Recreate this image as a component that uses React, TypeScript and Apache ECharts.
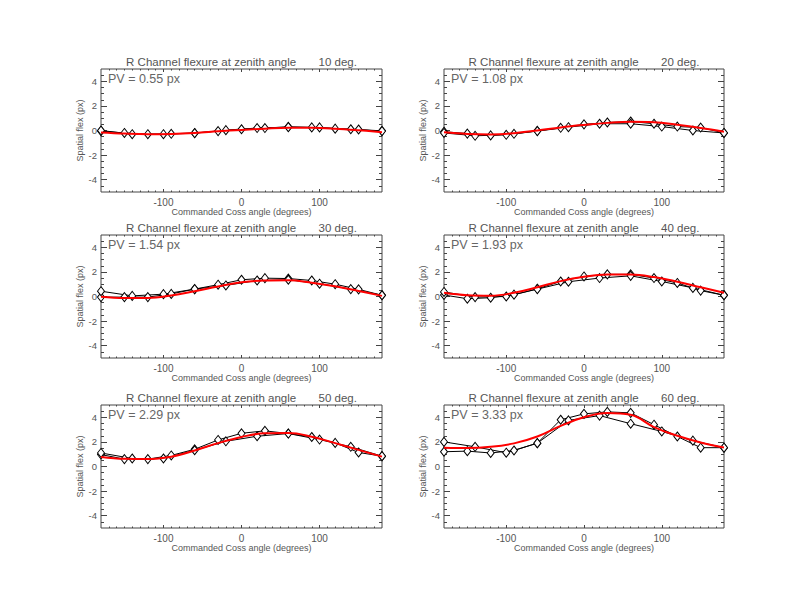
import React, { useEffect, useRef } from "react";
import * as echarts from "echarts";

// ---- data ----
const zenithAngles = [10, 20, 30, 40, 50, 60];
const pvValues = ["0.55", "1.08", "1.54", "1.93", "2.29", "3.33"];

const xStep30 = [-180, -150, -120, -90, -60, -30, 0, 30, 60, 90, 120, 150, 180];
const xStep40 = [-180, -140, -100, -60, -20, 20, 60, 100, 140, 180];
const xFit = [-180, -150, -120, -90, -60, -30, 0, 30, 60, 90, 120, 150, 180];

const s30_10 = [-0.05, -0.2, -0.3, -0.27, -0.2, -0.05, 0.1, 0.2, 0.3, 0.25, 0.15, 0.08, -0.03];
const s40_10 = [0.0, -0.3, -0.3, -0.22, 0.03, 0.2, 0.27, 0.25, 0.1, -0.05];
const fit_10 = [-0.16, -0.25, -0.3, -0.28, -0.2, -0.07, 0.05, 0.15, 0.22, 0.22, 0.15, 0.02, -0.14];

const s30_20 = [-0.1, -0.25, -0.4, -0.27, -0.03, 0.22, 0.5, 0.65, 0.73, 0.55, 0.32, 0.24, -0.2];
const s40_20 = [-0.2, -0.43, -0.35, -0.05, 0.27, 0.55, 0.55, 0.32, 0.0, -0.2];
const fit_20 = [-0.15, -0.28, -0.32, -0.22, 0.0, 0.25, 0.45, 0.62, 0.72, 0.68, 0.46, 0.2, -0.1];

const s30_30 = [-0.05, -0.05, -0.05, 0.21, 0.6, 0.96, 1.36, 1.49, 1.46, 1.3, 1.0, 0.58, 0.1];
const s40_30 = [0.43, 0.05, 0.19, 0.6, 0.9, 1.3, 1.36, 1.04, 0.6, 0.1];
const fit_30 = [-0.02, -0.12, -0.12, 0.08, 0.43, 0.82, 1.15, 1.3, 1.32, 1.12, 0.83, 0.45, 0.05];

const s30_40 = [0.12, -0.18, -0.1, 0.15, 0.63, 1.22, 1.63, 1.8, 1.8, 1.5, 1.1, 0.48, 0.1];
const s40_40 = [0.37, -0.05, 0.0, 0.6, 1.2, 1.5, 1.68, 1.22, 0.7, 0.1];
const fit_40 = [0.3, 0.1, 0.06, 0.3, 0.75, 1.25, 1.6, 1.78, 1.78, 1.58, 1.2, 0.75, 0.3];

const s30_50 = [0.97, 0.6, 0.6, 0.9, 1.4, 2.16, 2.7, 2.9, 2.68, 2.4, 1.92, 1.14, 0.84];
const s40_50 = [1.1, 0.65, 0.65, 1.32, 2.05, 2.46, 2.68, 2.19, 1.6, 0.84];
const fit_50 = [0.78, 0.62, 0.6, 0.8, 1.3, 1.9, 2.4, 2.7, 2.72, 2.42, 1.9, 1.35, 0.8];

const s30_60 = [1.2, 1.25, 1.1, 1.3, 1.9, 3.8, 4.28, 4.44, 4.36, 3.4, 2.44, 1.53, 1.53];
const s40_60 = [2.0, 1.6, 1.12, 1.9, 3.75, 4.14, 3.48, 2.85, 2.1, 1.53];
const fit_60 = [1.53, 1.5, 1.6, 1.88, 2.44, 3.3, 4.0, 4.35, 4.2, 3.2, 2.5, 1.95, 1.55];

const step30Series = [s30_10, s30_20, s30_30, s30_40, s30_50, s30_60];
const step40Series = [s40_10, s40_20, s40_30, s40_40, s40_50, s40_60];
const fitSeries = [fit_10, fit_20, fit_30, fit_40, fit_50, fit_60];

const xMajorTicks = [-100, 0, 100];
const xMinorTicks = [-170, -160, -150, -140, -130, -120, -110, -90, -80, -70, -60, -50, -40, -30, -20, -10,
  10, 20, 30, 40, 50, 60, 70, 80, 90, 110, 120, 130, 140, 150, 160, 170];
const yMajorTicks = [-4, -2, 0, 2, 4];
const yMinorTicks = [-4.5, -3.5, -3, -2.5, -1.5, -1, -0.5, 0.5, 1, 1.5, 2.5, 3, 3.5, 4.5];

const X_MIN = -180, X_MAX = 180, Y_MIN = -5, Y_MAX = 5;

// ---- layout ----
const COL_LEFT = [101, 444];
const COL_WIDTH = [281, 280];
const ROW_TOP = [69, 235, 405];
const PLOT_H = 123;
const FONT = "'Liberation Sans', Arial, sans-serif";
const TEXT_COLOR = "#555";
const TICK_COLOR = "#444";

export default function App() {
  const ref = useRef<HTMLDivElement>(null);
  useEffect(() => {
    if (!ref.current) return;
    const chart = echarts.init(ref.current, undefined, { renderer: "svg" });
    const grids: any[] = [];
    const xAxes: any[] = [];
    const yAxes: any[] = [];
    const series: any[] = [];
    const graphics: any[] = [];

    zenithAngles.forEach((za, i) => {
      const col = i % 2;
      const row = Math.floor(i / 2);
      const left = COL_LEFT[col];
      const width = COL_WIDTH[col];
      const top = ROW_TOP[row];
      grids.push({
        left, top, width, height: PLOT_H,
        show: true, borderColor: TICK_COLOR, borderWidth: 1,
        backgroundColor: "transparent", containLabel: false,
      });
      const baseX = {
        type: "value", gridIndex: i, min: X_MIN, max: X_MAX,
        axisLine: { show: false, onZero: false }, splitLine: { show: false },
      };
      const baseY = {
        type: "value", gridIndex: i, min: Y_MIN, max: Y_MAX,
        axisLine: { show: false, onZero: false }, splitLine: { show: false },
      };
      const tick = (len: number, vals: number[]) => ({
        inside: true, length: len, customValues: vals, lineStyle: { color: TICK_COLOR, width: 1 },
      });
      const xi = xAxes.length;
      xAxes.push({
        ...baseX, position: "bottom",
        axisTick: tick(3, xMajorTicks),
        axisLabel: { customValues: xMajorTicks, color: TEXT_COLOR, fontFamily: FONT, fontSize: 10, margin: 5 },
        name: "Commanded Coss angle (degrees)", nameLocation: "middle", nameGap: 14,
        nameTextStyle: { color: TEXT_COLOR, fontFamily: FONT, fontSize: 9 },
      });
      xAxes.push({ ...baseX, position: "bottom", axisTick: tick(1.5, xMinorTicks), axisLabel: { show: false } });
      xAxes.push({ ...baseX, position: "top", axisTick: tick(3, xMajorTicks), axisLabel: { show: false } });
      xAxes.push({ ...baseX, position: "top", axisTick: tick(1.5, xMinorTicks), axisLabel: { show: false } });
      const yi = yAxes.length;
      yAxes.push({
        ...baseY, position: "left",
        axisTick: tick(6, yMajorTicks),
        axisLabel: { customValues: yMajorTicks, color: TEXT_COLOR, fontFamily: FONT, fontSize: 9.5, margin: 4 },
        name: "Spatial flex (px)", nameLocation: "middle", nameGap: 17, nameRotate: 90,
        nameTextStyle: { color: TEXT_COLOR, fontFamily: FONT, fontSize: 9 },
      });
      yAxes.push({ ...baseY, position: "left", axisTick: tick(3, yMinorTicks), axisLabel: { show: false } });
      yAxes.push({ ...baseY, position: "right", axisTick: tick(6, yMajorTicks), axisLabel: { show: false } });
      yAxes.push({ ...baseY, position: "right", axisTick: tick(3, yMinorTicks), axisLabel: { show: false } });

      const blackLine = (xs: number[], ys: number[]) => ({
        type: "line", xAxisIndex: xi, yAxisIndex: yi,
        data: xs.map((x, k) => [x, ys[k]]),
        symbol: "diamond", symbolSize: [7, 9], showAllSymbol: true,
        lineStyle: { color: "#000", width: 1 },
        itemStyle: { color: "#fff", borderColor: "#000", borderWidth: 1 },
        z: 2,
      });
      series.push(blackLine(xStep30, step30Series[i]));
      series.push(blackLine(xStep40, step40Series[i]));
      series.push({
        type: "line", xAxisIndex: xi, yAxisIndex: yi,
        data: xFit.map((x, k) => [x, fitSeries[i][k]]),
        smooth: 0.4, symbol: "none",
        lineStyle: { color: "#ff0000", width: 2 },
        z: 3,
      });

      graphics.push({
        type: "text", x: left + width / 2, y: top - 7,
        style: {
          text: "R Channel flexure at zenith angle       " + za + " deg.",
          fill: TEXT_COLOR, font: `11.5px ${FONT}`, textAlign: "center", textVerticalAlign: "middle",
        },
      });
      graphics.push({
        type: "text", x: left + 7, y: top + 10,
        style: {
          text: "PV = " + pvValues[i] + " px",
          fill: "#666", font: `12.5px ${FONT}`, textAlign: "left", textVerticalAlign: "middle",
        },
        z: 10,
      });
    });

    chart.setOption({
      animation: false,
      backgroundColor: "#fff",
      grid: grids,
      xAxis: xAxes,
      yAxis: yAxes,
      series,
      graphic: graphics,
    });
    return () => chart.dispose();
  }, []);
  return (
    <div
      ref={ref}
      style={{ position: "fixed", left: 0, top: 0, width: 792, height: 612, background: "#fff" }}
    />
  );
}
